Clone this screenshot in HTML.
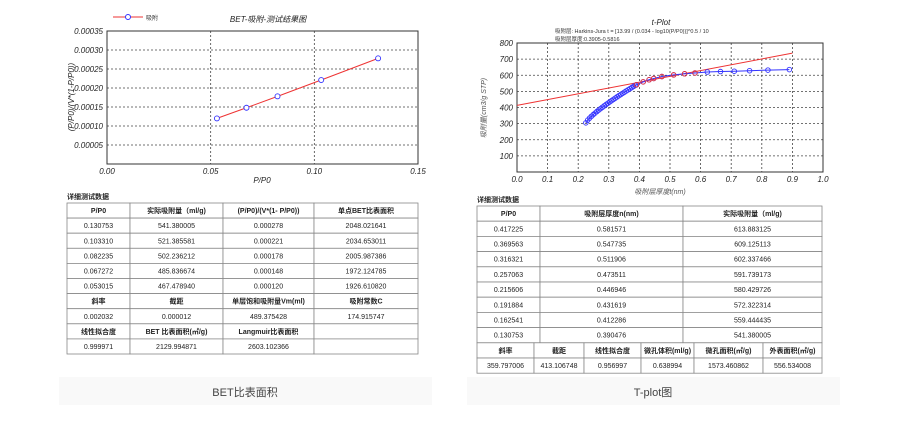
<!DOCTYPE html>
<html><head><meta charset="utf-8"><style>
body{margin:0;background:#fff;width:897px;height:426px;overflow:hidden}
svg{display:block;font-family:"Liberation Sans","Noto Sans CJK SC",sans-serif}
</style></head><body>
<svg id="s" width="897" height="426" xmlns="http://www.w3.org/2000/svg">
<rect x="59" y="377" width="373" height="28" fill="#f9f9f9"/>
<rect x="467" y="377" width="373" height="28" fill="#f9f9f9"/>
<text x="245" y="396" font-size="11" fill="#444" text-anchor="middle">BET比表面积</text>
<text x="653" y="396" font-size="11" fill="#444" text-anchor="middle">T-plot图</text>
</svg>
<script>
const S=document.getElementById('s');const NS='http://www.w3.org/2000/svg';
function el(t,a,txt){const e=document.createElementNS(NS,t);for(const k in a)e.setAttribute(k,a[k]);if(txt!=null)e.textContent=txt;S.appendChild(e);return e;}
// BET chart
const L=107,R=418,T=31,B=164;
const bx=v=>L+v/0.15*(R-L), by=v=>B-v/0.00035*(B-T);
for(let i=1;i<7;i++)el('line',{x1:L,x2:R,y1:by(i*0.00005),y2:by(i*0.00005),stroke:'#444','stroke-dasharray':'2,2','stroke-width':0.8});
for(let i=1;i<3;i++)el('line',{x1:bx(i*0.05),x2:bx(i*0.05),y1:T,y2:B,stroke:'#444','stroke-dasharray':'2,2','stroke-width':0.8});
el('rect',{x:L,y:T,width:R-L,height:B-T,fill:'none',stroke:'#333','stroke-width':1});
for(let i=1;i<=7;i++)el('text',{x:103,y:by(i*0.00005)+3,'font-size':8,'font-style':'italic','text-anchor':'end',fill:'#222'},(i*0.00005).toFixed(5));
['0.00','0.05','0.10','0.15'].forEach((t,i)=>el('text',{x:bx(i*0.05),y:174,'font-size':8,'font-style':'italic','text-anchor':'middle',fill:'#222'},t));
el('text',{x:262,y:183,'font-size':8,'font-style':'italic','text-anchor':'middle',fill:'#222'},'P/P0');
el('text',{x:0,y:0,'font-size':8,'font-style':'italic','text-anchor':'middle',fill:'#222',transform:'translate(74,97) rotate(-90)'},'(P/P0)/(V*(1-P/P0))');
el('text',{x:268,y:22,'font-size':8,'font-style':'italic','text-anchor':'middle',fill:'#222'},'BET-吸附-测试结果图');
el('line',{x1:113,x2:143,y1:17,y2:17,stroke:'#e33'});el('circle',{cx:128,cy:17,r:2.5,fill:'#fff',stroke:'#33f'});
el('text',{x:146,y:20,'font-size':6,fill:'#333'},'吸附');
const bp=[[0.053015,0.000120],[0.067272,0.000148],[0.082235,0.000178],[0.103310,0.000221],[0.130753,0.000278]];
el('polyline',{points:bp.map(p=>bx(p[0])+','+by(p[1])).join(' '),fill:'none',stroke:'#e33','stroke-width':1});
bp.forEach(p=>el('circle',{cx:bx(p[0]),cy:by(p[1]),r:2.5,fill:'#fff',stroke:'#33f','stroke-width':0.9}));
// t-plot
const L2=517,R2=823,T2=43,B2=172;
const tx=v=>L2+v*(R2-L2), ty=v=>B2-v/800*(B2-T2);
for(let i=1;i<8;i++)el('line',{x1:L2,x2:R2,y1:ty(i*100),y2:ty(i*100),stroke:'#444','stroke-dasharray':'2,2','stroke-width':0.8});
for(let i=1;i<10;i++)el('line',{x1:tx(i/10),x2:tx(i/10),y1:T2,y2:B2,stroke:'#444','stroke-dasharray':'2,2','stroke-width':0.8});
el('rect',{x:L2,y:T2,width:R2-L2,height:B2-T2,fill:'none',stroke:'#333','stroke-width':1});
for(let i=1;i<=8;i++)el('text',{x:513,y:ty(i*100)+3,'font-size':8,'font-style':'italic','text-anchor':'end',fill:'#222'},i*100);
for(let i=0;i<=10;i++)el('text',{x:tx(i/10),y:182,'font-size':8,'font-style':'italic','text-anchor':'middle',fill:'#222'},(i/10).toFixed(1));
el('text',{x:660,y:194,'font-size':7,'font-style':'italic','text-anchor':'middle',fill:'#555'},'吸附层厚度t(nm)');
el('text',{x:0,y:0,'font-size':7,'font-style':'italic','text-anchor':'middle',fill:'#555',transform:'translate(486,108) rotate(-90)'},'吸附量(cm3/g STP)');
el('text',{x:661,y:25,'font-size':8,'font-style':'italic','text-anchor':'middle',fill:'#222'},'t-Plot');
el('text',{x:555,y:33,'font-size':5.5,fill:'#333'},'吸附层: Harkins-Jura t = [13.99 / (0.034 - log10(P/P0))]^0.5 / 10');
el('text',{x:555,y:41,'font-size':5.5,fill:'#333'},'吸附层厚度:0.3905-0.5816');
el('line',{x1:tx(0),y1:ty(413),x2:tx(0.9),y2:ty(737),stroke:'#e33','stroke-width':1});
const tp=[];for(let t=0.225;t<0.388;t+=0.006){tp.push([t,305+236*Math.pow((t-0.225)/0.165,0.8)]);}
const tab=[[0.390476,541],[0.412286,559],[0.431619,572],[0.446946,580],[0.473511,592],[0.511906,602],[0.547735,609],[0.581571,614]];
tab.forEach(p=>tp.push(p));[[0.622,620],[0.665,623],[0.71,625],[0.76,628],[0.82,632],[0.89,635]].forEach(p=>tp.push(p));
el('polyline',{points:tp.map(p=>tx(p[0])+','+ty(p[1])).join(' '),fill:'none',stroke:'#33f','stroke-width':1});
tp.forEach(p=>el('circle',{cx:tx(p[0]),cy:ty(p[1]),r:2.3,fill:'none',stroke:'#33f','stroke-width':0.9}));
tab.forEach(p=>el('circle',{cx:tx(p[0]),cy:ty(p[1]),r:2.3,fill:'none',stroke:'#e33','stroke-width':0.9}));
// tables
function table(x0,y0,rh,rows){
 rows.forEach((r,i)=>{const y=y0+i*rh;const cols=r.c;
  for(let j=0;j<cols.length-1;j++){
   el('rect',{x:cols[j],y:y,width:cols[j+1]-cols[j],height:rh,fill:'#fff',stroke:'#888','stroke-width':0.8});
   if(r.t[j]!=null)el('text',{x:(cols[j]+cols[j+1])/2,y:y+rh/2+2.5,'font-size':r.b?7:7,'font-weight':r.b?'bold':'normal','text-anchor':'middle',fill:'#222'},r.t[j]);
  }});
}
el('text',{x:67,y:199,'font-size':7,'font-weight':'bold',fill:'#222'},'详细测试数据');
const c1=[67,130,223,314,418];
table(67,203,15.1,[
{c:c1,b:1,t:['P/P0','实际吸附量（ml/g)','(P/P0)/(V*(1- P/P0))','单点BET比表面积']},
{c:c1,t:['0.130753','541.380005','0.000278','2048.021641']},
{c:c1,t:['0.103310','521.385581','0.000221','2034.653011']},
{c:c1,t:['0.082235','502.236212','0.000178','2005.987386']},
{c:c1,t:['0.067272','485.836674','0.000148','1972.124785']},
{c:c1,t:['0.053015','467.478940','0.000120','1926.610820']},
{c:c1,b:1,t:['斜率','截距','单层饱和吸附量Vm(ml)','吸附常数C']},
{c:c1,t:['0.002032','0.000012','489.375428','174.915747']},
{c:c1,b:1,t:['线性拟合度','BET 比表面积(㎡/g)','Langmuir比表面积','']},
{c:c1,t:['0.999971','2129.994871','2603.102366','']}]);
el('text',{x:477,y:202,'font-size':7,'font-weight':'bold',fill:'#222'},'详细测试数据');
const c2=[477,540,683,822],c3=[477,534,584,641,694,763,822];
table(477,206,15.2,[
{c:c2,b:1,t:['P/P0','吸附层厚度n(nm)','实际吸附量（ml/g)']},
{c:c2,t:['0.417225','0.581571','613.883125']},
{c:c2,t:['0.369563','0.547735','609.125113']},
{c:c2,t:['0.316321','0.511906','602.337466']},
{c:c2,t:['0.257063','0.473511','591.739173']},
{c:c2,t:['0.215606','0.446946','580.429726']},
{c:c2,t:['0.191884','0.431619','572.322314']},
{c:c2,t:['0.162541','0.412286','559.444435']},
{c:c2,t:['0.130753','0.390476','541.380005']},
{c:c3,b:1,t:['斜率','截距','线性拟合度','微孔体积(ml/g)','微孔面积(㎡/g)','外表面积(㎡/g)']},
{c:c3,t:['359.797006','413.106748','0.956997','0.638994','1573.460862','556.534008']}]);
</script>
</body></html>
